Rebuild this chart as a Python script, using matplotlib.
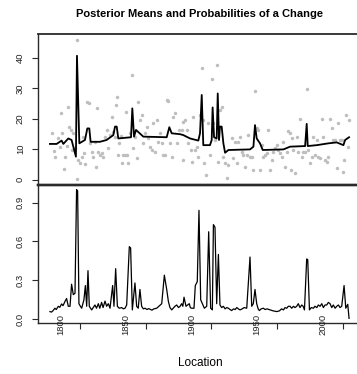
import matplotlib
matplotlib.use("Agg")
import matplotlib.pyplot as plt
import matplotlib.transforms as mtransforms

plt.rcParams['font.family'] = ['Liberation Sans', 'DejaVu Sans']

# ---------------- data ----------------
obs_year = [1793.3, 1795.1, 1795.8, 1798.4, 1799.6, 1800.4, 1801.4, 1802.7, 1803.4, 1804.7,
            1805.5, 1806.5, 1808.0, 1808.5, 1809.3, 1810.8, 1812.3, 1812.8, 1813.6, 1814.9,
            1816.2, 1816.9, 1817.9, 1818.7, 1820.5, 1821.7, 1822.5, 1823.8, 1825.1, 1826.3,
            1827.1, 1827.6, 1828.9, 1830.1, 1831.4, 1832.7, 1834.0, 1835.2, 1836.5, 1837.8,
            1839.0, 1840.3, 1841.6, 1842.3, 1842.9, 1844.1, 1844.9, 1845.9, 1846.7, 1847.9,
            1849.2, 1850.0, 1851.0, 1851.8, 1853.0, 1854.3, 1855.6, 1856.8, 1858.1, 1859.4,
            1860.6, 1861.9, 1863.2, 1864.5, 1865.7, 1867.0, 1868.3, 1869.5, 1870.8, 1872.1,
            1873.4, 1874.6, 1875.9, 1877.2, 1878.4, 1879.7, 1881.0, 1882.3, 1883.5, 1884.8,
            1886.1, 1887.3, 1888.6, 1890.7,
            1892.4, 1893.2, 1893.7, 1894.9, 1896.2, 1897.5, 1899.3, 1900.0, 1901.3, 1902.6,
            1903.8, 1905.1, 1906.4, 1907.7, 1908.9, 1909.7, 1911.0, 1912.7, 1914.0, 1915.3,
            1916.6, 1917.8, 1919.1, 1920.4, 1921.6, 1922.9, 1924.2, 1925.5, 1926.7, 1928.0,
            1930.5, 1931.8, 1933.1, 1934.4, 1935.6, 1936.9, 1938.2, 1939.4, 1940.7, 1942.0,
            1943.3, 1944.5, 1945.8, 1947.1, 1948.3, 1949.6, 1950.9, 1952.1, 1953.4, 1954.7,
            1956.0, 1957.2, 1958.5, 1959.8, 1961.0, 1962.3, 1963.6, 1964.9, 1966.1, 1967.4,
            1968.7, 1970.0, 1971.2, 1972.5, 1973.8, 1975.0, 1975.5, 1976.3, 1977.6, 1978.8,
            1980.1, 1981.4, 1982.7, 1983.9, 1985.2, 1986.5, 1987.7, 1989.0, 1990.3, 1991.6,
            1992.8, 1994.1, 1995.4, 1996.6, 1997.9, 1999.2, 2000.5, 2001.7, 2003.0, 2004.3,
            2005.5, 2006.8, 2008.1, 2009.4, 2010.6, 2011.9, 2013.2, 2014.4, 2015.7, 2016.5,
            2017.7, 2019.0, 2020.0]
obs_value = [15.2, 9.5, 7.5, 13.5, 10.8, 22.0, 15.2, 3.3, 7.5, 11.0,
             23.7, 17.4, 16.3, 9.7, 15.4, 10.3, 45.9, 0.1, 6.4, 5.3,
             7.5, 14.1, 8.6, 5.1, 25.6, 25.1, 11.9, 9.2, 7.5, 12.4,
             4.2, 23.4, 9.2, 8.1, 8.6, 7.5, 14.1, 16.3, 10.3, 14.6,
             20.7, 15.7, 14.1, 24.5, 27.0, 8.1, 11.9, 14.3, 5.3, 8.1,
             8.1, 22.3, 8.1, 5.3, 15.4, 34.4, 10.3, 14.1, 7.0, 25.6,
             19.6, 21.2, 11.9, 15.4, 17.4, 13.5, 10.8, 9.7, 18.5, 9.2,
             19.6, 12.4, 15.4, 11.9, 8.1, 8.1, 26.2, 25.9, 11.9, 7.5,
             20.7, 21.8, 11.9, 16.3,
             16.3, 6.4, 19.0, 19.6, 16.3, 11.9, 9.7, 5.9, 20.7, 9.7,
             10.8, 7.5, 21.2, 36.6, 19.6, 5.3, 1.5, 18.5, 8.1, 33.0,
             18.5, 13.0, 37.7, 5.9, 22.9, 24.0, 7.5, 5.3, 0.4, 4.8,
             13.5, 7.0, 12.4, 5.3, 12.4, 14.1, 9.2, 8.1, 4.2, 8.1,
             14.6, 7.5, 7.5, 3.1, 29.2, 16.8, 16.3, 3.1, 11.3, 7.5,
             8.1, 8.6, 16.3, 3.1, 6.4, 9.2, 10.3, 11.3, 9.7, 8.6,
             7.5, 12.4, 4.2, 9.2, 15.9, 15.4, 3.1, 13.5, 9.7, 2.0,
             14.1, 9.2, 19.8, 7.5, 9.2, 9.2, 29.8, 9.7, 5.3, 7.5,
             14.1, 8.1, 13.0, 7.5, 7.0, 19.8, 14.1, 6.4, 5.9, 7.5,
             19.8, 16.8, 13.0, 13.0, 3.7, 18.5, 13.0, 13.0, 2.6, 6.4,
             21.2, 10.8, 19.6]

pm_year = [1792.0, 1797.1, 1800.9, 1802.2, 1806.0, 1808.5, 1811.8, 1812.6, 1814.4, 1818.7,
           1820.5, 1822.0, 1823.0, 1830.1, 1835.2, 1840.3, 1841.6, 1842.9, 1844.1, 1853.8,
           1854.8, 1856.1, 1857.6, 1863.2, 1881.0, 1883.0, 1884.8, 1891.2, 1893.7, 1898.8,
           1905.1, 1906.4, 1907.7, 1908.9, 1914.0, 1915.3, 1916.0, 1917.1, 1919.1, 1919.9,
           1920.9, 1921.6, 1922.9, 1924.2, 1925.5, 1928.0, 1944.5, 1947.1, 1948.3, 1949.6,
           1952.1, 1954.2, 1970.0, 1975.0, 1986.5, 1987.7, 1988.5, 1995.4, 2004.3, 2010.6,
           2015.7, 2017.0, 2020.0]
pm_value = [11.7, 11.7, 12.8, 11.7, 13.5, 13.0, 7.5, 40.7, 11.9, 13.0,
            16.8, 16.8, 12.4, 12.4, 13.0, 14.6, 17.4, 17.4, 13.5, 13.9,
            23.4, 14.1, 16.3, 14.1, 13.9, 17.2, 15.2, 14.9, 14.6, 13.5,
            12.8, 15.2, 27.8, 11.3, 11.3, 13.0, 23.7, 13.9, 13.5, 28.3,
            13.0, 17.4, 17.4, 11.9, 8.8, 9.7, 9.9, 10.8, 17.9, 13.5,
            11.9, 9.7, 9.9, 10.8, 11.0, 18.3, 11.0, 11.3, 11.9, 12.2,
            11.3, 13.0, 13.9]

prob_year = [1792.0, 1793.2, 1794.5, 1795.8, 1796.8, 1798.4, 1799.5, 1800.9, 1802.0, 1803.4,
             1804.7, 1806.0, 1807.3, 1808.5, 1809.8, 1811.1, 1812.3, 1813.1, 1814.1, 1815.2,
             1816.2, 1817.9, 1819.0, 1820.0, 1821.0, 1822.0, 1823.8, 1825.0, 1826.3, 1827.5,
             1828.9, 1830.0, 1831.4, 1832.5, 1834.0, 1835.2, 1836.5, 1837.8, 1839.8, 1840.8,
             1842.1, 1843.4, 1844.8, 1846.7, 1848.0, 1849.2, 1850.5, 1852.5, 1853.5, 1854.8,
             1856.8, 1858.1, 1859.3, 1860.6, 1861.9, 1863.2, 1864.5, 1866.0, 1867.2, 1868.3,
             1869.8, 1871.2, 1873.4, 1875.0, 1877.2, 1879.2, 1881.0, 1882.3, 1883.5, 1884.8,
             1886.0, 1887.3, 1888.6, 1890.0, 1891.2, 1892.4, 1893.3, 1894.2, 1895.7, 1896.9,
             1898.2, 1899.0, 1900.0, 1901.8, 1902.8, 1904.3, 1905.6, 1906.9, 1908.2, 1909.7,
             1911.5, 1913.0, 1914.5, 1915.8, 1916.6, 1917.8, 1919.1, 1920.4, 1921.6, 1922.9,
             1924.2, 1925.5, 1926.8, 1928.0, 1929.3, 1930.5, 1932.0, 1933.2, 1934.4, 1935.6,
             1936.9, 1938.5, 1940.0, 1942.0, 1944.5, 1945.8, 1947.0, 1948.3, 1949.6, 1950.7,
             1951.6, 1953.0, 1954.7, 1956.0, 1957.5, 1959.8, 1962.0, 1964.9, 1967.0, 1968.5,
             1970.0, 1971.2, 1972.5, 1973.7, 1975.0, 1976.3, 1977.6, 1978.8, 1980.1, 1981.3,
             1982.6, 1983.9, 1985.0, 1986.0, 1987.7, 1988.5, 1989.8, 1991.2, 1992.8, 1994.0,
             1995.4, 1996.6, 1997.9, 1999.2, 2000.4, 2001.7, 2003.0, 2004.2, 2005.5, 2006.8,
             2008.0, 2009.4, 2010.6, 2011.9, 2013.1, 2014.4, 2016.2, 2017.5, 2019.0, 2020.0]
prob_value = [0.059, 0.055, 0.068, 0.085, 0.075, 0.10, 0.092, 0.118, 0.105, 0.136,
              0.16, 0.10, 0.10, 0.27, 0.19, 0.20, 1.0, 0.99, 0.12, 0.10,
              0.085, 0.15, 0.26, 0.10, 0.375, 0.10, 0.072, 0.09, 0.11, 0.085,
              0.12, 0.085, 0.13, 0.09, 0.14, 0.10, 0.12, 0.085, 0.26, 0.10,
              0.39, 0.10, 0.085, 0.09, 0.08, 0.085, 0.11, 0.56, 0.55, 0.072,
              0.28, 0.10, 0.085, 0.23, 0.10, 0.08, 0.085, 0.075, 0.082, 0.077,
              0.07, 0.08, 0.085, 0.10, 0.12, 0.34, 0.23, 0.136, 0.09, 0.072,
              0.085, 0.10, 0.11, 0.09, 0.10, 0.12, 0.10, 0.17, 0.10, 0.11,
              0.12, 0.09, 0.085, 0.085, 0.26, 0.29, 0.84, 0.15, 0.12, 0.085,
              0.10, 0.675, 0.085, 0.072, 0.73, 0.71, 0.12, 0.50, 0.11, 0.09,
              0.10, 0.08, 0.09, 0.085, 0.075, 0.067, 0.08, 0.075, 0.09, 0.08,
              0.072, 0.08, 0.09, 0.085, 0.48, 0.10, 0.12, 0.23, 0.12, 0.08,
              0.067, 0.08, 0.085, 0.075, 0.08, 0.072, 0.065, 0.059, 0.065, 0.08,
              0.072, 0.09, 0.085, 0.10, 0.10, 0.085, 0.10, 0.09, 0.10, 0.12,
              0.09, 0.11, 0.10, 0.072, 0.465, 0.46, 0.072, 0.09, 0.085, 0.10,
              0.09, 0.11, 0.10, 0.12, 0.09, 0.11, 0.11, 0.13, 0.12, 0.09,
              0.11, 0.085, 0.10, 0.11, 0.09, 0.10, 0.26, 0.085, 0.115, 0.007]

top_yticks = [0, 10, 20, 30, 40]
bot_yticks = [0.0, 0.3, 0.6, 0.9]
bot_ytick_labels = ["0.0", "0.3", "0.6", "0.9"]
x_label_years = [1800, 1850, 1900, 1950, 2000]
x_tick_years = [1815, 1865, 1915, 1965, 2015]

title = "Posterior Means and Probabilities of a Change"
xlabel = "Location"

# ---------------- figure ----------------
W, H = 357, 374
fig = plt.figure(figsize=(W / 100, H / 100), dpi=100)
L, R = 38, 361
T1, M, B2 = 34, 184.7, 323
ax1 = fig.add_axes([L / W, (H - M) / H, (R - L) / W, (M - T1) / H])
ax2 = fig.add_axes([L / W, (H - B2) / H, (R - L) / W, (B2 - M) / H])

xlim = (1782.9, 2029.1)
frame_col = '#2a2a2a'
tick_fs = 6.8

ax1.plot(obs_year, obs_value, 'o', ms=2.5, color='#BEBEBE', mec='none', zorder=1)
ax1.plot(pm_year, pm_value, '-', color='black', lw=1.3, zorder=2)
ax1.set_xlim(*xlim)
ax1.set_ylim(-1.71, 47.86)
ax1.set_yticks(top_yticks)
ax1.set_yticklabels([str(v) for v in top_yticks], rotation=90, va='center')
ax1.set_xticks([])

ax2.plot(prob_year, prob_value, '-', color='black', lw=0.9)
ax2.set_xlim(*xlim)
ax2.set_ylim(-0.029, 1.038)
ax2.set_yticks(bot_yticks)
ax2.set_yticklabels(bot_ytick_labels, rotation=90, va='center')
ax2.set_xticks(x_tick_years)
ax2.set_xticklabels([])
ax2.tick_params(axis='x', length=4.3, width=0.8, color=frame_col, direction='out')

trans = mtransforms.blended_transform_factory(ax2.transData, ax2.transAxes)
for yr in x_label_years:
    ax2.text(yr, -0.008, str(yr), rotation=90, ha='center', va='center',
             fontsize=tick_fs, color='#222222', transform=trans)

for ax in (ax1, ax2):
    ax.tick_params(axis='y', length=4.0, width=0.8, color=frame_col, pad=5.5,
                   labelsize=tick_fs, labelcolor='#222222')
    ax.spines['right'].set_visible(False)
    for s in ('left', 'top', 'bottom'):
        ax.spines[s].set_color(frame_col)
        ax.spines[s].set_linewidth(1.0)
    ax.set_facecolor('none')

ax1.spines['bottom'].set_linewidth(1.7)
ax2.spines['top'].set_linewidth(1.7)
ax1.spines['top'].set_linewidth(1.3)

fig.text(200 / W, 1 - 14 / H, title, ha='center', va='center',
         fontsize=8, fontweight='bold')
fig.text(200 / W, 1 - 363 / H, xlabel, ha='center', va='center', fontsize=8.5)

fig.savefig('out.png', dpi=100)
